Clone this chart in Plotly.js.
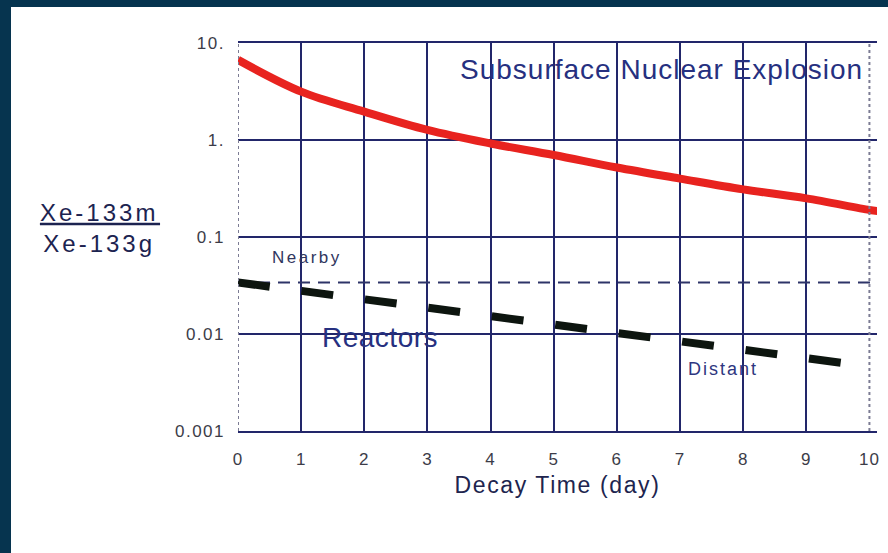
<!DOCTYPE html>
<html>
<head>
<meta charset="utf-8">
<script src="https://cdn.plot.ly/plotly-3.0.1.min.js"></script>
<style>
  html, body { margin: 0; padding: 0; background: #ffffff; width: 888px; height: 553px; overflow: hidden; }
  #bandTop { position: absolute; left: 0; top: 0; width: 888px; height: 7px; background: #06344f; z-index: 3; }
  #bandLeft { position: absolute; left: 0; top: 0; width: 11px; height: 553px; background: #06344f; z-index: 3; }
  #edgeRight { position: absolute; left: 880px; top: 7px; width: 8px; height: 546px; background: #ffffff; z-index: 2; }
  #chart { position: absolute; left: 11px; top: 7px; width: 877px; height: 546px; z-index: 1; }
</style>
</head>
<body>
<div id="chart"></div>
<div id="edgeRight"></div>
<div id="bandTop"></div>
<div id="bandLeft"></div>
<script>
// Xe-133m / Xe-133g activity ratio against decay time
const decayDays = [0, 1, 2, 3, 4, 5, 6, 7, 8, 9, 10, 10.15];
const explosionRatio = [6.7, 3.15, 1.96, 1.27, 0.92, 0.7, 0.52, 0.4, 0.31, 0.25, 0.19, 0.185];

const reactorDays = [0, 3.1, 6.1, 9.7];
const reactorRatio = [0.034, 0.0184, 0.0101, 0.0049];

const nearbyDays = [0, 10.15];
const nearbyRatio = [0.034, 0.034];

const xTicks = [0, 1, 2, 3, 4, 5, 6, 7, 8, 9, 10];
const yTicks = [0.001, 0.01, 0.1, 1, 10];
const yTickText = ['0.001', '0.01', '0.1', '1.', '10.'];

const NAVY = '#22266a';
const FONT = 'Liberation Sans, Arial, sans-serif';
const sp = (t, ls) => `<span style="letter-spacing:${ls}px">${t}</span>`;

const traces = [
  {
    x: nearbyDays, y: nearbyRatio, mode: 'lines',
    line: { color: '#2e3468', width: 2, dash: '12px,8px' },
    hoverinfo: 'skip'
  },
  {
    x: reactorDays, y: reactorRatio, mode: 'lines',
    line: { color: '#0d150f', width: 8, dash: '32px,32px' },
    hoverinfo: 'skip'
  },
  {
    x: decayDays, y: explosionRatio, mode: 'lines', line: { color: '#e8231f', width: 8, shape: 'spline', smoothing: 1 },
    hoverinfo: 'skip'
  }
];

const layout = {
  width: 877, height: 546,
  margin: { l: 227, r: 11, t: 36, b: 122 },
  paper_bgcolor: '#ffffff', plot_bgcolor: '#ffffff',
  showlegend: false,
  font: { family: FONT, color: '#3c3c48' },
  xaxis: {
    range: [0, 10.12], tickvals: xTicks, ticktext: xTicks.map(v => sp(String(v), 1)),
    showgrid: false, zeroline: false,
    showline: true, linecolor: NAVY, linewidth: 2, mirror: true,
    ticks: '', ticklabelstandoff: 12,
    tickfont: { size: 17, color: '#3c3c48' },
    minor: { tickmode: 'array', tickvals: [1, 2, 3, 4, 5, 6, 7, 8, 9], showgrid: true, gridcolor: NAVY, gridwidth: 2, ticks: '' },
    title: { text: sp('Decay Time (day)', 1.6), font: { size: 23, color: '#20244e' }, standoff: 8 }
  },
  yaxis: {
    type: 'log', range: [-3, 1], tickvals: yTicks, ticktext: yTickText.map(t => sp(t, 1.5)),
    showgrid: true, gridcolor: NAVY, gridwidth: 2, zeroline: false,
    showline: false, ticks: '', ticklabelstandoff: 12,
    tickfont: { size: 17, color: '#3c3c48' }
  },
  shapes: [
    { type: 'line', xref: 'x', yref: 'y domain', x0: 0, x1: 0, y0: 0, y1: 1, line: { color: '#7c7c94', width: 2, dash: 'dot' } },
    { type: 'line', xref: 'x', yref: 'y domain', x0: 10, x1: 10, y0: 0, y1: 1, line: { color: '#7c7c94', width: 2, dash: 'dot' } },
    { type: 'line', xref: 'paper', yref: 'paper', x0: -0.31, x1: -0.122, y0: 0.5335, y1: 0.5335, line: { color: '#1c2350', width: 2.5 } }
  ],
  annotations: [
    { xref: 'paper', yref: 'paper', x: -0.2175, y: 0.523, xanchor: 'center', yanchor: 'middle', showarrow: false,
      text: sp('Xe-133m', 3) + '<br>' + sp('Xe-133g', 3), font: { size: 24, color: '#1c2350' } },
    { xref: 'x', yref: 'y', x: 6.70, y: Math.log10(5.3), xanchor: 'center', yanchor: 'middle', showarrow: false,
      text: sp('Subsurface Nuclear Explosion', 1), font: { size: 28, color: '#263080' } },
    { xref: 'x', yref: 'y', x: 1.085, y: Math.log10(0.062), xanchor: 'center', yanchor: 'middle', showarrow: false,
      text: sp('Nearby', 2.5), font: { size: 17, color: '#30365e' } },
    { xref: 'x', yref: 'y', x: 2.25, y: Math.log10(0.0093), xanchor: 'center', yanchor: 'middle', showarrow: false,
      text: sp('Reactors', 0.5), font: { size: 28, color: '#263080' } },
    { xref: 'x', yref: 'y', x: 7.68, y: Math.log10(0.0044), xanchor: 'center', yanchor: 'middle', showarrow: false,
      text: sp('Distant', 2), font: { size: 18, color: '#2e3680' } }
  ]
};

Plotly.newPlot('chart', traces, layout, { staticPlot: true, displayModeBar: false });
</script>
</body>
</html>
